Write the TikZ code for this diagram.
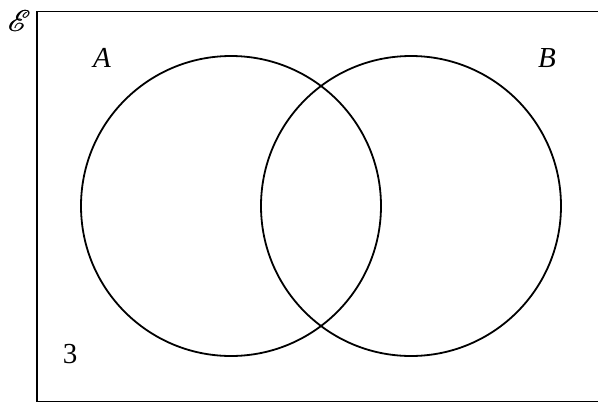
\documentclass[tikz,border=0pt]{standalone}
\usepackage{graphicx}
\usepackage{fontspec}
\setmainfont{Liberation Serif}
\usepackage{mathrsfs}
\begin{document}
\begin{tikzpicture}[x=1pt,y=-1pt,
  lbl/.style={inner sep=0pt,font=\fontsize{29}{29}\selectfont},
  setc/.style={draw=black,line width=1.8pt}]
\useasboundingbox (0,0) rectangle (598,402);
\clip (0,0) rectangle (598,402);
\node[draw=black,line width=1.8pt,minimum width=580pt,minimum height=390pt,anchor=north west,inner sep=0pt] (U) at (36,10.5) {};
\node[setc,circle,minimum size=300pt,inner sep=0pt] (A) at (231,206) {};
\node[setc,circle,minimum size=300pt,inner sep=0pt] (B) at (411,206) {};
\node[inner sep=0pt] (E) at (19,21) {\scalebox{3}{$\mathscr{E}$}};
\node[inner sep=0pt] at (19.6,21) {\scalebox{3}{$\mathscr{E}$}};
\node[lbl] (la) at (102,58) {\textit{A}};
\node[lbl] (lb) at (547,58) {\textit{B}};
\node[lbl] (n3) at (70,354) {3};
\end{tikzpicture}
\end{document}
